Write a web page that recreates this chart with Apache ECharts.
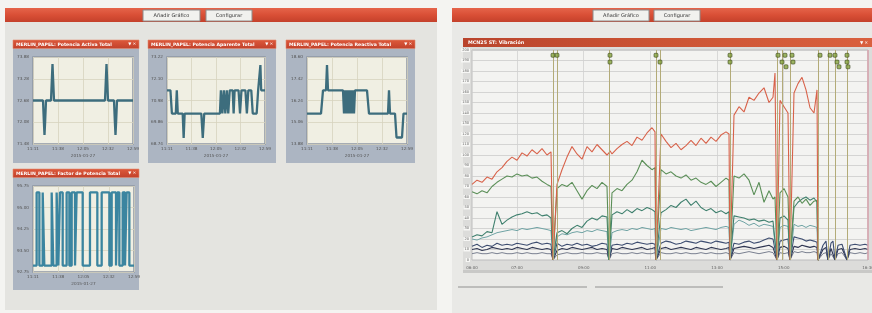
<!DOCTYPE html>
<html><head><meta charset="utf-8">
<script src="https://cdn.jsdelivr.net/npm/echarts@6/dist/echarts.min.js"></script>
<style>html,body{margin:0;padding:0;background:#f4f4f1;}#c{width:872px;height:313px;}</style>
</head><body><div id="c"></div><script>
// ---------------- DATA ----------------
const smallXLabels = ['11:11', '11:38', '12:05', '12:32', '12:59'];
const smallDate = '2015-01-27';

const activeTitle = 'MERLIN_PAPEL: Potencia Activa Total';
const activeYLabels = ['71.48', '72.08', '72.68', '73.28', '73.88'];
const activeX = [0, 10, 10.8, 11.5, 12.2, 13, 18, 18.8, 19.5, 20.2, 21, 72, 72.8, 73.5, 74.2, 75, 81, 81.8, 82.5, 83.2, 84, 100];
const activeY = [2, 2, 1.1, 0.42, 1.1, 2, 2, 2.9, 3.68, 2.9, 2, 2, 2.9, 3.68, 2.9, 2, 2, 1.1, 0.42, 1.1, 2, 2];

const apparentTitle = 'MERLIN_PAPEL: Potencia Aparente Total';
const apparentYLabels = ['68.74', '69.86', '70.98', '72.10', '73.22'];
const apparentX = [0, 3.5, 5, 9, 10, 11, 16, 17, 18, 35, 36.5, 38, 54, 55, 56.5, 58, 59.5, 61, 62.5, 64, 67, 68, 69, 73, 74.5, 76, 80, 81.5, 83, 86, 87.5, 91.5, 93, 94.5, 95.3, 96.1, 100];
const apparentY = [2.47, 2.47, 1.4, 1.4, 2.47, 1.4, 1.4, 0.28, 1.4, 1.4, 0.28, 1.4, 1.4, 2.47, 1.4, 2.47, 1.4, 2.47, 1.4, 2.47, 2.47, 1.4, 2.47, 2.47, 1.4, 2.47, 2.47, 1.4, 2.47, 2.47, 1.4, 1.4, 2.47, 2.47, 3.63, 2.47, 2.47];

const reactiveTitle = 'MERLIN_PAPEL: Potencia Reactiva Total';
const reactiveYLabels = ['13.88', '15.06', '16.24', '17.42', '18.60'];
const reactiveX = [0, 14, 16, 19, 20, 21, 36, 37, 38, 39, 40, 41, 42, 43, 44, 45, 46, 47, 48, 60, 62, 81, 82, 83, 88, 89.5, 95, 96.5, 100];
const reactiveY = [1.4, 1.4, 2.47, 2.47, 3.63, 2.47, 2.47, 1.4, 2.47, 1.4, 2.47, 1.4, 2.47, 1.4, 2.47, 1.4, 2.47, 1.4, 2.47, 2.47, 1.4, 1.4, 2.47, 1.4, 1.4, 0.3, 0.3, 1.4, 1.4];

const factorTitle = 'MERLIN_PAPEL: Factor de Potencia Total';
const factorYLabels = ['92.75', '93.50', '94.25', '95.00', '95.75'];
const factorX = [0, 3.6, 3.6, 6.3, 6.3, 9.6, 9.6, 11.2, 11.2, 18.5, 18.5, 20.1, 20.1, 23.4, 23.4, 25.1, 25.1, 26.7, 26.7, 29.4, 29.4, 33.3, 33.3, 36, 36, 38.3, 38.3, 41.6, 41.6, 43.2, 43.2, 49.2, 49.2, 56.4, 56.4, 63.7, 63.7, 68, 68, 75.6, 75.6, 77.9, 77.9, 82.2, 82.2, 83.5, 83.5, 85.5, 85.5, 88.8, 88.8, 91.1, 91.1, 92.7, 92.7, 95.4, 95.4, 100];
const factorY = [0.3, 0.3, 3.7, 3.7, 0.3, 0.3, 3.7, 3.7, 0.3, 0.3, 3.7, 3.7, 0.3, 0.3, 3.7, 3.7, 0.3, 0.3, 3.7, 3.7, 0.3, 0.3, 3.7, 3.7, 0.3, 0.3, 3.7, 3.7, 0.3, 0.3, 3.7, 3.7, 0.3, 0.3, 3.7, 3.7, 0.3, 0.3, 3.7, 3.7, 0.3, 0.3, 3.7, 3.7, 0.3, 0.3, 3.7, 3.7, 0.3, 0.3, 3.7, 3.7, 0.3, 0.3, 3.7, 3.7, 0.3, 0.3];

const bigTitle = 'MCN25 ST: Vibración';
const bigXTickValues = [135, 335, 535, 735, 935];
const bigXLabelValues = [0, 135, 335, 535, 735, 935, 1188];
const bigXLabels = ['06:00', '07:00', '09:00', '11:00', '13:00', '15:00', '16:30'];

const bigX = [
  0, 15, 30, 45, 60, 75, 90, 105, 120, 135, 150, 165, 180, 195, 210, 225, 237,
  243, 246,
  255, 270, 285, 300, 315, 330, 345, 360, 375, 390, 405,
  411, 414,
  420, 435, 450, 465, 480, 495, 510, 525, 540, 549,
  552, 558,
  567, 582, 597, 612, 627, 642, 657, 672, 687, 702, 717, 732, 747, 762, 771,
  774, 777,
  786, 801, 816, 831, 846, 861, 876, 891, 903, 909,
  915, 918,
  924, 936, 948,
  954, 957,
  966, 978, 990, 1002, 1014, 1026, 1035,
  1038, 1041,
  1053, 1062,
  1068, 1071,
  1077, 1083,
  1089, 1092,
  1098, 1110,
  1125, 1128,
  1134, 1149, 1164, 1179, 1188
];
const redV = [
  72, 76, 74, 79, 77, 84, 88, 94, 98, 95, 102, 99, 105, 101, 106, 100, 103,
  0, 0,
  72, 86, 98, 108, 101, 96, 108, 103, 110, 105, 100,
  102, 104,
  101, 106, 110, 113, 109, 117, 114, 121, 126, 122,
  0, 0,
  120, 113, 107, 111, 105, 109, 114, 109, 116, 111, 117, 113, 119, 122, 120,
  0, 0,
  138, 146, 141, 155, 152, 159, 164, 150, 155, 178,
  0, 0,
  152, 146, 140,
  0, 0,
  159, 168, 174, 162, 145, 140, 162,
  0, 0
];
const greenV = [
  65, 63, 66, 64, 70, 74, 77, 80, 79, 82, 80, 81, 78, 79, 75, 72, 70,
  0, 0,
  68, 72, 70, 74, 66, 58, 66, 71, 68, 74, 70,
  0, 0,
  64, 68, 66, 72, 76, 84, 95, 90, 86, 88,
  0, 0,
  86, 82, 84, 80, 78, 81, 76, 78, 74, 72, 75, 70, 74, 78, 76,
  0, 0,
  80, 78, 82, 76, 62, 74, 55, 66, 58, 60,
  0, 0,
  64, 68, 60,
  0, 0,
  56, 60, 54, 58, 52, 56, 57,
  0, 0
];
const tealV = [
  22, 24, 23, 27, 26, 46, 34, 38, 41, 43, 44, 46, 44, 45, 42, 43, 40,
  0, 0,
  26, 28, 25, 30, 33, 31, 37, 40, 38, 42, 41,
  0, 0,
  43, 46, 44, 48, 45, 49, 47, 50, 48, 46,
  0, 0,
  45, 48, 52, 50, 55, 58, 52, 56, 50, 47, 49, 45, 47, 44, 46,
  0, 0,
  42, 41, 40, 38, 39, 37, 38, 36, 37, 36,
  0, 0,
  40, 42, 38,
  0, 0,
  50, 55, 58, 60, 57, 59, 55,
  0, 0
];
const lightTealV = [
  20, 19, 21, 22, 24, 26, 27, 28, 29, 28, 30, 29, 30, 31, 30, 29, 28,
  0, 0,
  22, 25, 24, 26, 27, 26, 28, 27, 29, 28, 27,
  0, 0,
  26, 28, 29, 28, 30, 29, 31, 30, 29, 30,
  0, 0,
  30, 29, 31, 30, 29, 30, 28, 29, 30, 31, 30, 29, 31, 32, 31,
  0, 0,
  34, 38, 36, 33, 35, 32, 34, 33, 32, 33,
  0, 0,
  31, 33, 32,
  0, 0,
  34, 32, 33, 31, 33, 32, 31,
  0, 0
];
const navy1V = [
  13, 15, 12, 14, 13, 16, 14, 15, 14, 16, 15, 14, 16, 17, 15, 16, 15,
  0, 0,
  16, 13, 15, 14, 16, 14, 15, 13, 14, 16, 15,
  0, 0,
  14, 15, 14, 16, 15, 17, 16, 15, 16, 15,
  0, 0,
  16, 18, 17, 15, 16, 18, 17, 16, 18, 17, 16, 18, 17, 16, 17,
  0, 0,
  16, 15, 17, 18, 16, 17, 19, 21, 20, 19,
  0, 0,
  18, 19, 20,
  0, 0,
  22, 21, 20, 18, 19, 18, 17,
  0, 0,
  14, 18,
  0, 0,
  16, 18,
  0, 0,
  14, 15,
  0, 0,
  14, 15, 14, 15, 14
];
const navy2V = [
  10, 11, 9, 10, 12, 11, 10, 11, 10, 12, 11, 10, 12, 11, 10, 11, 10,
  0, 0,
  9, 11, 10, 12, 11, 10, 11, 12, 10, 11, 10,
  0, 0,
  11, 10, 12, 11, 10, 11, 12, 10, 11, 12,
  0, 0,
  11, 12, 10, 11, 12, 11, 10, 12, 11, 10, 12, 11, 10, 11, 12,
  0, 0,
  11, 12, 13, 12, 11, 12, 13, 14, 12, 11,
  0, 0,
  12, 13, 11,
  0, 0,
  13, 12, 14, 13, 12, 13, 12,
  0, 0,
  10, 12,
  0, 0,
  11, 12,
  0, 0,
  10, 11,
  0, 0,
  10, 11, 10, 11, 10
];
const grayV = [
  6, 7, 6, 6, 7, 6, 7, 6, 6, 7, 6, 7, 6, 6, 7, 6, 6,
  0, 0,
  5, 6, 7, 6, 6, 7, 6, 6, 7, 6, 6,
  0, 0,
  6, 7, 6, 6, 7, 6, 7, 6, 6, 7,
  0, 0,
  7, 6, 6, 7, 6, 7, 6, 6, 7, 6, 7, 6, 6, 7, 6,
  0, 0,
  7, 6, 7, 8, 7, 6, 7, 8, 7, 6,
  0, 0,
  7, 6, 7,
  0, 0,
  8, 7, 8, 7, 7, 8, 7,
  0, 0,
  6, 7,
  0, 0,
  6, 7,
  0, 0,
  6, 7,
  0, 0,
  7, 6, 7, 6, 7
];
const eventX = [243, 255, 411, 552, 564, 774, 915, 930, 954, 1038, 1068, 1089, 1125];
const edgeEventX = [1186];
const dotX = [243, 255, 414, 414, 552, 564, 774, 774, 918, 939, 960, 930, 963, 942, 1044, 1074, 1089, 1095, 1101, 1125, 1125, 1128];
const dotY = [195, 195, 195, 188.5, 195, 188.5, 195, 188.5, 195, 195, 195, 188.5, 188.5, 184, 195, 195, 195, 188.5, 184, 195, 188.5, 184];

// ---------------- BUILD ----------------
const zip = (xs, ys) => xs.map((x, i) => [x, ys[i] === undefined ? null : ys[i]]);
const F = '"DejaVu Sans", "Liberation Sans", sans-serif';
const chart = echarts.init(document.getElementById('c'), null, {renderer: 'canvas', width: 872, height: 313});

const G = echarts.graphic;
const redBar = () => new G.LinearGradient(0, 0, 0, 1, [{offset: 0, color: '#e5644a'}, {offset: 0.5, color: '#d94f36'}, {offset: 1, color: '#c4412b'}]);
const titleBar = () => new G.LinearGradient(0, 0, 0, 1, [{offset: 0, color: '#de5a3c'}, {offset: 1, color: '#c1402a'}]);

const els = [];
function rect(x, y, w, h, fill, stroke, z, lw) {
  els.push({type: 'rect', silent: true, z: z === undefined ? -10 : z, shape: {x, y, width: w, height: h},
    style: {fill, stroke: stroke || null, lineWidth: lw || 1}});
}
function text(x, y, t, size, fill, align, weight, z) {
  els.push({type: 'text', silent: true, z: z === undefined ? 50 : z, x, y,
    style: {text: t, fill, font: (weight || 'normal') + ' ' + size + 'px ' + F, textAlign: align || 'left', verticalAlign: 'middle'}});
}
// screens
rect(5, 8, 432, 302, '#e4e4e0');
rect(452, 8, 420, 305, '#e9e9e6');
rect(5, 8, 432, 14, redBar());
rect(452, 8, 420, 14, redBar());
// buttons
[[143, 57, 'Añadir Gráfico'], [206, 46, 'Configurar'], [593, 56, 'Añadir Gráfico'], [654, 46, 'Configurar']].forEach(b => {
  rect(b[0], 10, b[1], 11, '#f1f1ee', '#8c8c8c', 5);
  text(b[0] + b[1] / 2, 15.5, b[2], 5, '#333', 'center');
});
// small panels
const panels = [[13, 40, 126, 123, activeTitle], [148, 40, 128, 123, apparentTitle], [286, 40, 129, 123, reactiveTitle], [13, 169, 126, 121, factorTitle]];
panels.forEach(p => {
  rect(p[0], p[1] + 8, p[2], p[3] - 8, '#acb5c2');
  rect(p[0], p[1], p[2], 8.5, titleBar(), '#e08a70', -9, 0.6);
  text(p[0] + 3, p[1] + 4.3, p[4], 4.6, '#fff', 'left', 'bold');
  text(p[0] + p[2] - 3, p[1] + 4.3, '▼ ✕', 4, '#fff', 'right');
});
// big panel
rect(463, 47, 409, 226, '#dcdcda');
rect(463, 38, 409, 9, new G.LinearGradient(0, 0, 1, 0, [{offset: 0, color: '#b9442c'}, {offset: 0.5, color: '#cc5434'}, {offset: 1, color: '#d9603e'}]), null, -9);
text(468, 42.5, bigTitle, 4.8, '#fff', 'left', 'bold');
text(868, 42.5, '▼ ✕', 4.2, '#fff', 'right');
rect(463, 270, 409, 3, '#c9c9c7', null, -9);
// lower lines on right screen
rect(458, 286, 129, 2, '#bdbdbb', null, -9);
rect(595, 286, 128, 2, '#bdbdbb', null, -9);

const grids = [
  {left: 33, top: 57, width: 100, height: 87},
  {left: 167, top: 57, width: 98, height: 87},
  {left: 307, top: 57, width: 100, height: 87},
  {left: 33, top: 186, width: 101, height: 86},
  {left: 472, top: 50, width: 396, height: 210}
].map((g, i) => Object.assign(g, {
  show: true, outerBoundsMode: 'none', containLabel: false,
  backgroundColor: i < 4 ? '#f0efe3' : '#f3f3f1',
  borderColor: i < 4 ? '#8d96a4' : '#bdbdbd', borderWidth: i < 4 ? 1.5 : 1
}));

const smallY = [activeYLabels, apparentYLabels, reactiveYLabels, factorYLabels];
const xAxes = [], yAxes = [];
for (let i = 0; i < 4; i++) {
  xAxes.push({gridIndex: i, type: 'value', min: 0, max: 100, interval: 25,
    name: smallDate, nameLocation: 'middle', nameGap: 10, nameTextStyle: {fontSize: 4.2, color: '#555', fontFamily: F},
    axisLine: {show: false}, axisTick: {show: false},
    axisLabel: {fontSize: 4.2, color: '#555', margin: 3, fontFamily: F, formatter: v => smallXLabels[Math.round(v / 25)]},
    splitLine: {show: true, lineStyle: {color: '#d7d3bf', width: 0.8}}});
  const yl = smallY[i];
  yAxes.push({gridIndex: i, type: 'value', min: 0, max: 4, interval: 1,
    axisLine: {show: false}, axisTick: {show: false},
    axisLabel: {fontSize: 4.2, color: '#555', margin: 4, fontFamily: F, formatter: v => yl[Math.round(v)]},
    splitLine: {show: true, lineStyle: {color: '#d7d3bf', width: 0.8}}});
}
xAxes.push({gridIndex: 4, type: 'value', min: 0, max: 1188,
  axisLine: {show: false}, axisTick: {show: false, customValues: bigXTickValues},
  axisLabel: {fontSize: 4, color: '#666', margin: 6, fontFamily: F, customValues: bigXLabelValues,
    formatter: v => bigXLabels[bigXLabelValues.indexOf(v)] || ''},
  splitLine: {show: true, lineStyle: {color: '#d0d0d0', width: 0.8}}});
yAxes.push({gridIndex: 4, type: 'value', min: 0, max: 200, interval: 10,
  axisLine: {show: false}, axisTick: {show: false},
  axisLabel: {fontSize: 3.6, color: '#666', margin: 2, fontFamily: F, backgroundColor: '#f7f7f5', padding: [0, 1]},
  splitLine: {show: true, lineStyle: {color: '#cbcbcb', width: 0.8}}});

const small = [[activeX, activeY, '#3d6d7d'], [apparentX, apparentY, '#3d6d7d'], [reactiveX, reactiveY, '#3d6d7d'], [factorX, factorY, '#3b85a0']];
const series = small.map((s, i) => ({
  type: 'line', xAxisIndex: i, yAxisIndex: i, data: zip(s[0], s[1]), symbol: 'none', silent: true,
  lineStyle: {color: s[2], width: 2.3}, z: 3
}));
const bigSeries = [
  [grayV, '#7a8090', 1], [navy2V, '#2f3652', 1.1], [navy1V, '#3d4d70', 1.1],
  [lightTealV, '#6fa3a4', 1], [tealV, '#3f806e', 1.1], [greenV, '#5b8f58', 1.1], [redV, '#d8624a', 1.1]
];
bigSeries.forEach(b => series.push({
  type: 'line', xAxisIndex: 4, yAxisIndex: 4, data: zip(bigX, b[0]), symbol: 'none', silent: true,
  connectNulls: false, lineStyle: {color: b[1], width: b[2]}, z: 3
}));
series.push({
  type: 'line', xAxisIndex: 4, yAxisIndex: 4, data: [], silent: true, z: 2,
  markLine: {silent: true, symbol: ['none', 'none'], label: {show: false}, animation: false,
    lineStyle: {color: '#b3ab78', width: 1, type: 'solid'},
    data: eventX.map(v => ({xAxis: v})).concat(edgeEventX.map(v => ({xAxis: v, lineStyle: {color: '#d9a3ae', width: 1.5, type: 'solid'}})))}
});
series.push({
  type: 'scatter', xAxisIndex: 4, yAxisIndex: 4, data: zip(dotX, dotY), symbol: 'roundRect', symbolSize: 4, silent: true, z: 6,
  itemStyle: {color: '#86a23e', borderColor: '#2e3a14', borderWidth: 0.7}
});

chart.setOption({
  animation: false,
  backgroundColor: '#f4f4f1',
  graphic: {elements: els},
  grid: grids,
  xAxis: xAxes,
  yAxis: yAxes,
  series
});
</script></body></html>
